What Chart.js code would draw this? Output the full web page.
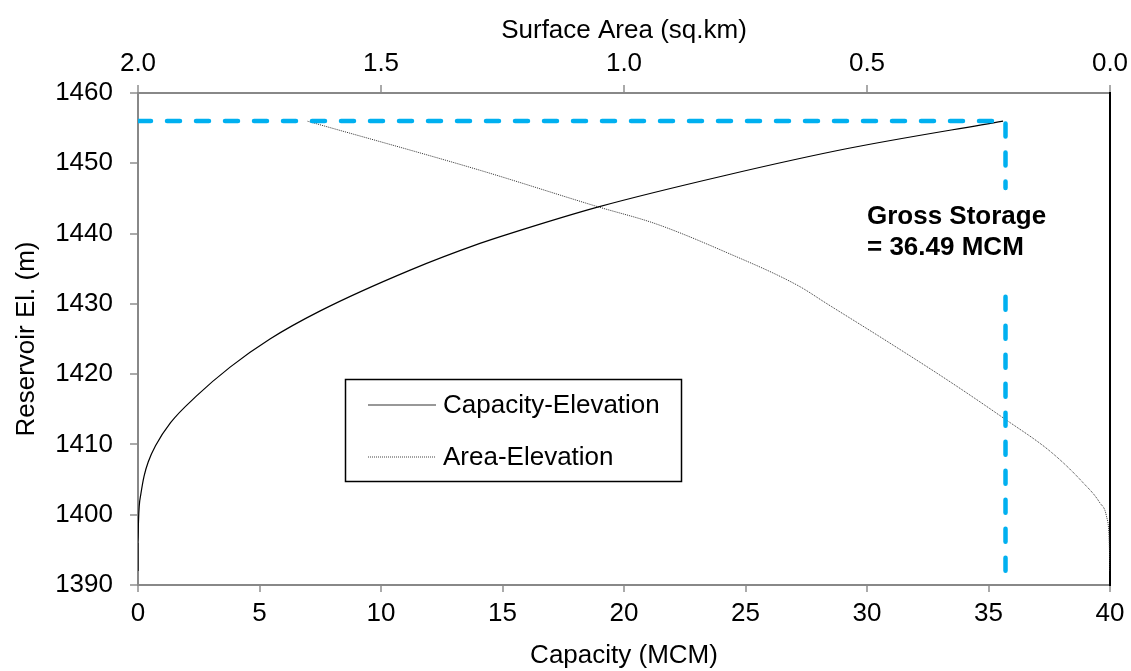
<!DOCTYPE html>
<html>
<head>
<meta charset="utf-8">
<script src="https://cdn.jsdelivr.net/npm/chart.js@4"></script>
<style>
  body { margin: 0; background: #fff; }
  #wrap { width: 1131px; height: 671px; }
</style>
</head>
<body>
<div id="wrap"><canvas id="curves"></canvas></div>
<script>
// capacity-elevation curve (MCM vs m)
const capElev = [1392, 1396, 1399, 1401.2, 1403, 1405.5, 1407.5, 1409.8, 1413.1, 1416.9, 1421, 1425, 1429, 1434.8, 1438.6, 1440, 1443.8, 1448.3, 1452.1, 1456];
const capValues = [0, 0, 0.02, 0.05, 0.12, 0.25, 0.42, 0.72, 1.34, 2.41, 3.79, 5.43, 7.5, 11.2, 14.07, 15.3, 18.95, 24.2, 29.2, 35.6];

// area-elevation curve (sq.km vs m)
const areaElev = [1392, 1396.9, 1399.7, 1401.7, 1404.6, 1408.9, 1413.6, 1419.0, 1424.6, 1430, 1432.6, 1437.4, 1441.4, 1443.8, 1449, 1456];
const areaValues = [0, 0.002, 0.007, 0.021, 0.056, 0.121, 0.216, 0.331, 0.457, 0.582, 0.642, 0.792, 0.935, 1.053, 1.296, 1.652];

// gross storage guide
const fullLevel = 1456;
const grossCap = 35.7;
const labelLines = ['Gross Storage', '= 36.49 MCM'];

const capTicks = [0, 5, 10, 15, 20, 25, 30, 35, 40];
const areaTicks = [0, 0.5, 1.0, 1.5, 2.0];
const elevTicks = [1390, 1400, 1410, 1420, 1430, 1440, 1450, 1460];

const blue = '#00B0F0';
const fam = '"Liberation Sans", Arial, sans-serif';
const font = { family: fam, size: 26 };

const capData = capValues.map((v, i) => ({ x: v, y: capElev[i] }));
const areaData = areaValues.map((v, i) => ({ x: v, y: areaElev[i] }));

const guide = {
  id: 'guide',
  afterDraw(chart) {
    const ctx = chart.ctx;
    const xs = chart.scales.x, ys = chart.scales.y;
    ctx.save();
    ctx.fillStyle = '#000';
    ctx.font = 'bold 26px ' + fam;
    ctx.textBaseline = 'alphabetic';
    ctx.fillText(labelLines[0], xs.getPixelForValue(30), ys.getPixelForValue(1441.4));
    ctx.fillText(labelLines[1], xs.getPixelForValue(30), ys.getPixelForValue(1437.0));
    // legend box
    ctx.lineWidth = 1.5;
    ctx.strokeStyle = '#000';
    ctx.strokeRect(345.5, 379.5, 336, 102);
    ctx.font = '26px ' + fam;
    ctx.textBaseline = 'middle';
    ctx.beginPath();
    ctx.lineWidth = 1.2;
    ctx.strokeStyle = '#333';
    ctx.moveTo(368, 405); ctx.lineTo(436, 405);
    ctx.stroke();
    ctx.beginPath();
    ctx.lineWidth = 1;
    ctx.strokeStyle = '#444';
    ctx.setLineDash([1, 1]);
    ctx.moveTo(368, 457); ctx.lineTo(436, 457);
    ctx.stroke();
    ctx.setLineDash([]);
    ctx.fillText('Capacity-Elevation', 443, 406);
    ctx.fillText('Area-Elevation', 443, 458);
    ctx.restore();
  }
};

new Chart(document.getElementById('curves'), {
  type: 'scatter',
  data: {
    datasets: [
      {
        label: 'guide-h',
        data: [{ x: 0, y: fullLevel }, { x: grossCap, y: fullLevel }, { x: grossCap, y: 1446.5 }],
        showLine: true, borderColor: blue, borderWidth: 4.5, borderDash: [13, 16],
        borderCapStyle: 'round', pointRadius: 0, xAxisID: 'x'
      },
      {
        label: 'guide-v',
        data: [{ x: grossCap, y: 1431 }, { x: grossCap, y: 1391.5 }],
        showLine: true, borderColor: blue, borderWidth: 4.5, borderDash: [13, 16],
        borderCapStyle: 'round', pointRadius: 0, xAxisID: 'x'
      },
      {
        label: 'Capacity-Elevation',
        data: capData,
        showLine: true, borderColor: '#000', borderWidth: 1.2,
        cubicInterpolationMode: 'monotone', pointRadius: 0, xAxisID: 'x'
      },
      {
        label: 'Area-Elevation',
        data: areaData,
        showLine: true, borderColor: '#333', borderWidth: 1, borderDash: [1, 1],
        cubicInterpolationMode: 'monotone', pointRadius: 0, xAxisID: 'x2'
      }
    ]
  },
  options: {
    responsive: true,
    maintainAspectRatio: false,
    animation: false,
    layout: { padding: 0 },
    plugins: { legend: { display: false }, tooltip: { enabled: false } },
    scales: {
      x: {
        type: 'linear', position: 'bottom', min: 0, max: 40,
        afterBuildTicks: s => { s.ticks = capTicks.map(v => ({ value: v })); },
        afterFit: s => { s.height = 86; },
        ticks: { font, color: '#000', padding: 6, maxRotation: 0 },
        grid: { drawOnChartArea: false, color: '#aaa', tickLength: 7, lineWidth: 2 },
        border: { color: '#888', width: 2 },
        title: { display: true, text: 'Capacity (MCM)', font, color: '#000', padding: { top: 0, bottom: 0 } }
      },
      x2: {
        type: 'linear', position: 'top', min: 0, max: 2, reverse: true,
        afterBuildTicks: s => { s.ticks = areaTicks.map(v => ({ value: v })); },
        afterFit: s => { s.height = 93; },
        ticks: { font, color: '#000', padding: 6, maxRotation: 0, callback: v => v.toFixed(1) },
        grid: { drawOnChartArea: false, color: '#aaa', tickLength: 8, lineWidth: 2 },
        border: { color: '#888', width: 2 },
        title: { display: true, text: 'Surface Area (sq.km)', font, color: '#000', padding: { top: 15, bottom: 0 } }
      },
      y: {
        type: 'linear', position: 'left', min: 1390, max: 1460,
        afterBuildTicks: s => { s.ticks = elevTicks.map(v => ({ value: v })); },
        afterFit: s => { s.width = 138; },
        ticks: { font, color: '#000', padding: 17, callback: v => String(v) },
        grid: { drawOnChartArea: false, color: '#aaa', tickLength: 8, lineWidth: 2 },
        border: { color: '#888', width: 2 },
        title: { display: true, text: 'Reservoir El. (m)', font, color: '#000', padding: { top: 11, bottom: 0 } }
      },
      y2: {
        type: 'linear', position: 'right', min: 1390, max: 1460,
        afterFit: s => { s.width = 21; },
        ticks: { display: false },
        grid: { drawOnChartArea: false, drawTicks: false },
        border: { color: '#000', width: 2 }
      }
    }
  },
  plugins: [guide]
});
</script>
</body>
</html>
